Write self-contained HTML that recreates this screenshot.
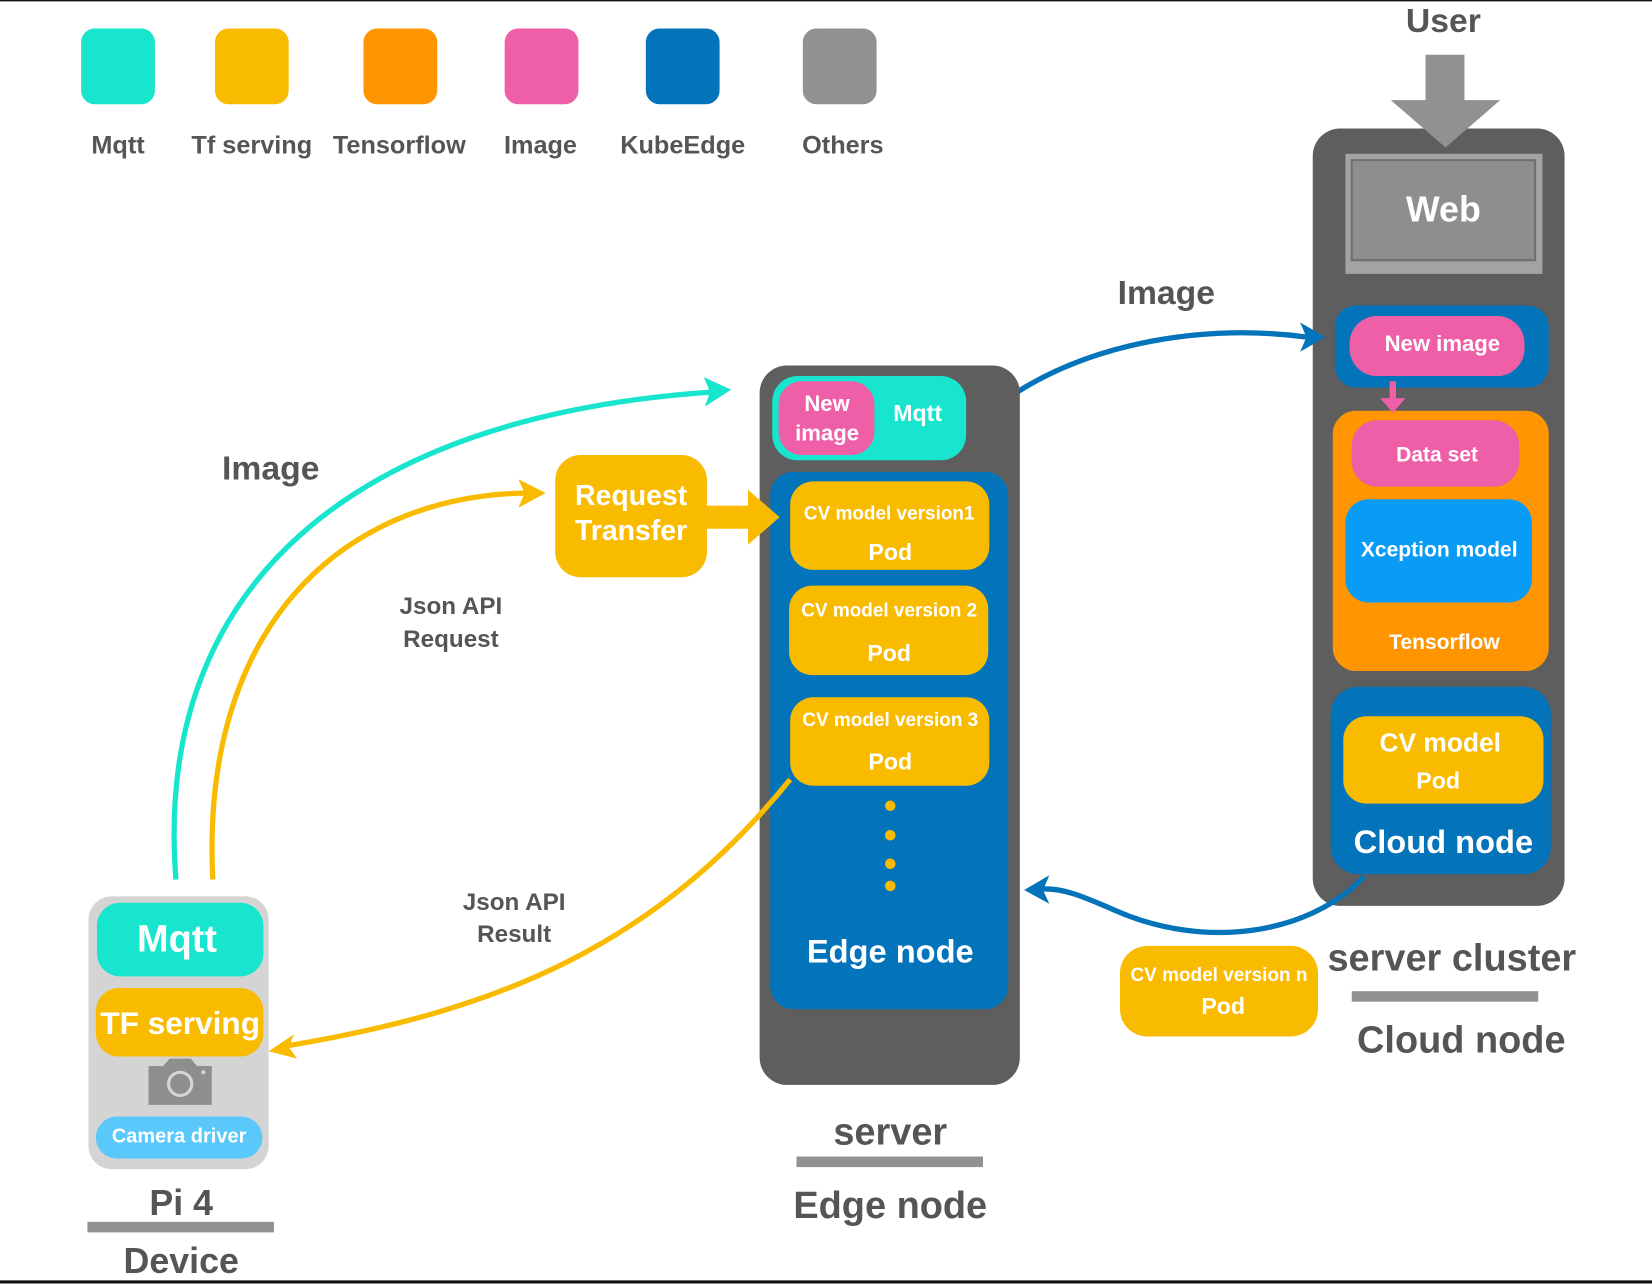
<!DOCTYPE html>
<html><head><meta charset="utf-8"><style>
html,body{margin:0;padding:0;background:#fff;}
svg{display:block;}
text{font-family:"Liberation Sans",Arial,sans-serif;font-weight:bold;text-anchor:middle;dominant-baseline:central;}
.g{fill:#555;}
.w{fill:#fff;}
</style></head><body>
<svg width="1652" height="1284" viewBox="0 0 1568 1219" preserveAspectRatio="none" xmlns="http://www.w3.org/2000/svg">
<rect x="0" y="0" width="1568" height="1219" fill="#fff"/>
<line x1="0" y1="0.5" x2="1568" y2="0.5" stroke="#111" stroke-width="1.5"/>
<line x1="0" y1="1217" x2="1568" y2="1217" stroke="#111" stroke-width="3"/>
<defs>
<marker id="ab" markerWidth="8" markerHeight="8" refX="4" refY="4" orient="auto" markerUnits="userSpaceOnUse" viewBox="0 0 8 8"><path d="M0,0 L8,4 L0,8 z" fill="#0373BA"/></marker>
</defs>
<!-- legend -->
<rect x="77" y="27" width="70" height="72" rx="13" fill="#17E5CE"/>
<rect x="204" y="27" width="70" height="72" rx="13" fill="#F9BB00"/>
<rect x="345" y="27" width="70" height="72" rx="13" fill="#FF9500"/>
<rect x="479" y="27" width="70" height="72" rx="13" fill="#EF5FA7"/>
<rect x="613" y="27" width="70" height="72" rx="13" fill="#0373BA"/>
<rect x="762" y="27" width="70" height="72" rx="13" fill="#919191"/>
<g font-size="24"><text class="g" x="112" y="138">Mqtt</text><text class="g" x="239" y="138">Tf serving</text><text class="g" x="379" y="138">Tensorflow</text><text class="g" x="513" y="138">Image</text><text class="g" x="648" y="138">KubeEdge</text><text class="g" x="800" y="138">Others</text></g>

<!-- cloud -->
<text class="g" x="1370" y="20" font-size="32">User</text>
<rect x="1246" y="122" width="239" height="738" rx="26" fill="#5E5E5E"/>
<path d="M1353,52 H1390 V95 H1424 L1372,140 L1320,95 H1353 Z" fill="#919191"/>
<rect x="1277" y="146" width="187" height="114" fill="#A3A3A3"/>
<rect x="1283" y="152" width="174" height="95" fill="#8E8E8E" stroke="#6f6f6f" stroke-width="2"/>
<text class="w" x="1370" y="199" font-size="34">Web</text>
<rect x="1267" y="290" width="203" height="78" rx="20" fill="#0373BA"/>
<rect x="1281" y="300" width="166" height="57" rx="26" fill="#EF5FA7"/>
<text class="w" x="1369" y="326" font-size="21">New image</text>
<rect x="1265" y="390" width="205" height="247" rx="22" fill="#FF9500"/>
<path d="M1319,362 h6 v16 h9 l-12,14 l-12,-14 h9z" fill="#EF5FA7"/>
<rect x="1283" y="399" width="159" height="63" rx="24" fill="#EF5FA7"/>
<text class="w" x="1364" y="432" font-size="20">Data set</text>
<rect x="1277" y="474" width="177" height="98" rx="22" fill="#0A9BF5"/>
<text class="w" x="1366" y="522" font-size="20">Xception  model</text>
<text class="w" x="1371" y="610" font-size="20">Tensorflow</text>
<rect x="1263" y="652" width="209" height="178" rx="26" fill="#0373BA"/>
<rect x="1275" y="680" width="190" height="83" rx="22" fill="#F9BB00"/>
<text class="w" x="1367" y="705" font-size="25">CV model</text>
<text class="w" x="1365" y="741" font-size="22">Pod</text>
<text class="w" x="1370" y="799" font-size="31">Cloud node</text>
<text class="g" x="1378" y="910" font-size="36">server cluster</text>
<rect x="1283" y="941" width="177" height="10" fill="#919191"/>
<text class="g" x="1387" y="988" font-size="36">Cloud node</text>
<rect x="1063" y="898" width="188" height="86" rx="26" fill="#F9BB00"/>
<text class="w" x="1157" y="926" font-size="18">CV model version  n</text>
<text class="w" x="1161" y="955" font-size="22">Pod</text>

<!-- blue curves -->
<path d="M1295,832 C1240,890 1140,900 1060,865 C1030,852 1010,843 990,844" fill="none" stroke="#0373BA" stroke-width="5"/>
<path d="M972,845 L996,831 L990,845 L996,858 Z" fill="#0373BA"/>
<path d="M958,377 C1040,322 1150,308 1240,320" fill="none" stroke="#0373BA" stroke-width="5"/>
<path d="M1258,320 L1234,306 L1240,320 L1234,334 Z" fill="#0373BA"/>
<text class="g" x="1107" y="278" font-size="32">Image</text>

<!-- edge -->
<rect x="721" y="347" width="247" height="683" rx="26" fill="#5E5E5E"/>
<rect x="733" y="357" width="184" height="80" rx="24" fill="#17E5CE"/>
<rect x="739" y="362" width="91" height="70" rx="22" fill="#EF5FA7"/>
<text class="w" x="785" y="383" font-size="21">New</text>
<text class="w" x="785" y="411" font-size="21">image</text>
<text class="w" x="871" y="392" font-size="22">Mqtt</text>
<rect x="731" y="448" width="226" height="510" rx="22" fill="#0373BA"/>
<rect x="750" y="457" width="189" height="84" rx="22" fill="#F9BB00"/>
<text class="w" x="844" y="488" font-size="18">CV model version1</text>
<text class="w" x="845" y="524" font-size="22">Pod</text>
<rect x="749" y="556" width="189" height="85" rx="22" fill="#F9BB00"/>
<text class="w" x="844" y="580" font-size="18">CV model version 2</text>
<text class="w" x="844" y="620" font-size="22">Pod</text>
<rect x="750" y="662" width="189" height="84" rx="22" fill="#F9BB00"/>
<text class="w" x="845" y="684" font-size="18">CV model version 3</text>
<text class="w" x="845" y="723" font-size="22">Pod</text>
<g fill="#F9BB00"><circle cx="845" cy="765" r="5"/><circle cx="845" cy="793" r="5"/><circle cx="845" cy="820" r="5"/><circle cx="845" cy="841" r="5"/></g>
<text class="w" x="845" y="903" font-size="31">Edge node</text>
<text class="g" x="845" y="1075" font-size="36">server</text>
<rect x="756" y="1098" width="177" height="10" fill="#919191"/>
<text class="g" x="845" y="1145" font-size="36">Edge node</text>

<!-- request transfer -->
<rect x="527" y="432" width="144" height="116" rx="24" fill="#F9BB00"/>
<text class="w" x="599" y="471" font-size="27">Request</text>
<text class="w" x="599" y="504" font-size="27">Transfer</text>
<path d="M671,480 H710 V465 L740,491 L710,517 V502 H671 Z" fill="#F9BB00"/>

<!-- device -->
<rect x="84" y="851" width="171" height="259" rx="22" fill="#D4D4D4"/>
<rect x="92" y="857" width="158" height="70" rx="22" fill="#17E5CE"/>
<text class="w" x="168" y="892" font-size="36">Mqtt</text>
<rect x="91" y="938" width="159" height="65" rx="22" fill="#F9BB00"/>
<text class="w" x="171" y="971" font-size="30">TF serving</text>
<path d="M141,1012 h14 l6,-7 h20 l6,7 h14 v37 h-60z" fill="#8E8E8E"/>
<circle cx="171" cy="1029" r="11" fill="none" stroke="#D4D4D4" stroke-width="3"/>
<circle cx="193" cy="1018" r="2" fill="#D4D4D4"/>
<rect x="91" y="1060" width="158" height="40" rx="20" fill="#5AC8FA"/>
<text class="w" x="170" y="1079" font-size="19">Camera driver</text>
<text class="g" x="172" y="1142" font-size="34">Pi  4</text>
<rect x="83" y="1160" width="177" height="10" fill="#919191"/>
<text class="g" x="172" y="1197" font-size="34">Device</text>

<!-- curves left -->
<path d="M167,835 C145,560 330,395 678,372" fill="none" stroke="#17E5CE" stroke-width="5"/>
<path d="M694,370 L668,358 L674,372 L669,386 Z" fill="#17E5CE"/>
<path d="M202,835 C190,600 320,470 502,468" fill="none" stroke="#F9BB00" stroke-width="5"/>
<path d="M518,468 L492,455 L498,468 L492,482 Z" fill="#F9BB00"/>
<path d="M750,740 C620,900 470,960 272,993" fill="none" stroke="#F9BB00" stroke-width="5"/>
<path d="M255,998 L279,982 L274,994 L282,1005 Z" fill="#F9BB00"/>
<text class="g" x="257" y="445" font-size="32">Image</text>
<text class="g" x="428" y="576" font-size="23">Json API</text>
<text class="g" x="428" y="607" font-size="23">Request</text>
<text class="g" x="488" y="857" font-size="23">Json API</text>
<text class="g" x="488" y="887" font-size="23">Result</text>
</svg>
</body></html>
